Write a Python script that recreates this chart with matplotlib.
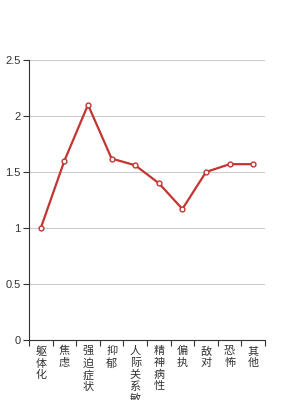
import matplotlib
matplotlib.use("Agg")
import matplotlib.pyplot as plt

categories = ["躯体化", "焦虑", "强迫症状", "抑郁", "人际关系敏感", "精神病性", "偏执", "敌对", "恐怖", "其他"]
values = [1.0, 1.6, 2.1, 1.62, 1.56, 1.40, 1.17, 1.50, 1.57, 1.57]
yticks = [0, 0.5, 1, 1.5, 2, 2.5]
ytick_labels = ["0", "0.5", "1", "1.5", "2", "2.5"]

plt.rcParams['font.family'] = ['Noto Sans CJK SC', 'DejaVu Sans']

fig = plt.figure(figsize=(2.95, 4.0), dpi=100)
ax = fig.add_axes([29/295, 0.15, (265-29)/295, 0.70])

n = len(categories)
x = list(range(n))
ax.plot(x, values, color="#c23531", linewidth=1.6, marker="o", markersize=3.5,
        markerfacecolor="white", markeredgecolor="#c23531", markeredgewidth=1.0, zorder=3)

ax.set_xlim(-0.5, n - 0.5)
ax.set_ylim(0, 2.5)
ax.set_yticks(yticks)
ax.set_yticklabels(ytick_labels, fontsize=8, color="#333333", family=['Liberation Sans', 'DejaVu Sans'])
ax.yaxis.grid(True, color="#cccccc", linewidth=0.8)
ax.set_axisbelow(True)

# band boundary ticks
ax.set_xticks([i - 0.5 for i in range(n + 1)])
ax.set_xticklabels([])
ax.tick_params(axis="x", length=4, color="#333333", width=0.8)
ax.tick_params(axis="y", length=4, color="#333333", width=0.8, pad=2)

for i, c in enumerate(categories):
    ax.text(i, -0.055, "\n".join(c), ha="center", va="top", fontsize=8,
            color="#333333", linespacing=1.2, transform=ax.transData, clip_on=False)

for s in ["top", "right"]:
    ax.spines[s].set_visible(False)
ax.spines["left"].set_color("#333333")
ax.spines["bottom"].set_color("#333333")

fig.savefig("out.png", dpi=100)
